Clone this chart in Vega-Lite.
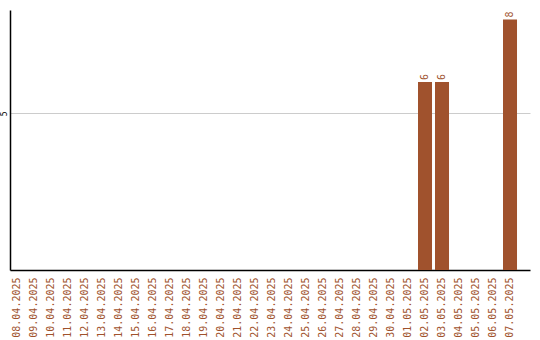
{
  "$schema": "https://vega.github.io/schema/vega-lite/v6.json",
  "autosize": "none",
  "width": 520,
  "height": 260,
  "padding": {"left": 10, "top": 10, "right": 10, "bottom": 70},
  "background": "white",
  "data": {
    "values": [
      {"date": "08.04.2025", "count": 0},
      {"date": "09.04.2025", "count": 0},
      {"date": "10.04.2025", "count": 0},
      {"date": "11.04.2025", "count": 0},
      {"date": "12.04.2025", "count": 0},
      {"date": "13.04.2025", "count": 0},
      {"date": "14.04.2025", "count": 0},
      {"date": "15.04.2025", "count": 0},
      {"date": "16.04.2025", "count": 0},
      {"date": "17.04.2025", "count": 0},
      {"date": "18.04.2025", "count": 0},
      {"date": "19.04.2025", "count": 0},
      {"date": "20.04.2025", "count": 0},
      {"date": "21.04.2025", "count": 0},
      {"date": "22.04.2025", "count": 0},
      {"date": "23.04.2025", "count": 0},
      {"date": "24.04.2025", "count": 0},
      {"date": "25.04.2025", "count": 0},
      {"date": "26.04.2025", "count": 0},
      {"date": "27.04.2025", "count": 0},
      {"date": "28.04.2025", "count": 0},
      {"date": "29.04.2025", "count": 0},
      {"date": "30.04.2025", "count": 0},
      {"date": "01.05.2025", "count": 0},
      {"date": "02.05.2025", "count": 6},
      {"date": "03.05.2025", "count": 6},
      {"date": "04.05.2025", "count": 0},
      {"date": "05.05.2025", "count": 0},
      {"date": "06.05.2025", "count": 0},
      {"date": "07.05.2025", "count": 8}
    ]
  },
  "encoding": {
    "x": {
      "field": "date",
      "type": "nominal",
      "sort": null,
      "scale": {"paddingInner": 0.176, "paddingOuter": 0.382, "align": 0},
      "axis": {
        "title": null,
        "labelAngle": -90,
        "labelAlign": "right",
        "labelBaseline": "middle",
        "labelPadding": 7,
        "labelFont": "DejaVu Sans Mono",
        "labelFontSize": 10,
        "labelColor": "#a0522d",
        "ticks": false,
        "domainColor": "#000000",
        "domainWidth": 1.5,
        "grid": false
      }
    },
    "y": {
      "field": "count",
      "type": "quantitative",
      "scale": {"domain": [0, 8.3], "nice": false},
      "axis": {
        "title": null,
        "values": [5],
        "labelAngle": -90,
        "labelAlign": "center",
        "labelBaseline": "bottom",
        "labelPadding": 2,
        "labelFont": "DejaVu Sans Mono",
        "labelFontSize": 8,
        "labelColor": "#000000",
        "ticks": false,
        "domainColor": "#000000",
        "domainWidth": 1.5,
        "grid": true,
        "gridColor": "#cccccc",
        "gridWidth": 1
      }
    }
  },
  "layer": [
    {
      "mark": {"type": "bar", "color": "#a0522d"}
    },
    {
      "transform": [{"filter": "datum.count > 0"}],
      "mark": {
        "type": "text",
        "angle": -90,
        "align": "left",
        "baseline": "middle",
        "dx": 2,
        "font": "DejaVu Sans Mono",
        "fontSize": 10,
        "color": "#a0522d"
      },
      "encoding": {"text": {"field": "count", "type": "quantitative"}}
    }
  ],
  "config": {"view": {"stroke": null}}
}
